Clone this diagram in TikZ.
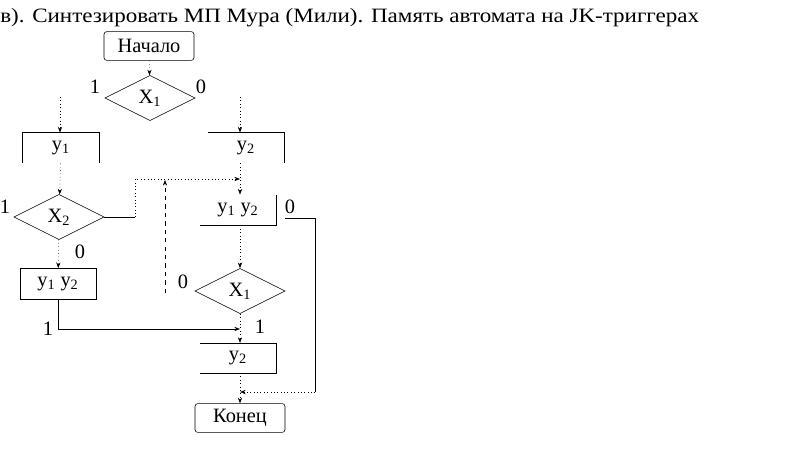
\documentclass[tikz,border=0pt]{standalone}
\usepackage{graphicx}
\usepackage{fontspec}
\setmainfont{Liberation Serif}
\usetikzlibrary{shapes.geometric}
\usetikzlibrary{arrows.meta}
\usetikzlibrary{calc}
\usetikzlibrary{positioning}
\tikzset{every text node part/.style={align=center, font={\fontsize{14.5}{16}\selectfont}}}
\tikzstyle{term} = [draw, rounded corners=2pt, minimum width=2.25cm, minimum height=0.72cm, inner sep=0pt]
\tikzstyle{opbox} = [minimum width=1.9cm, minimum height=0.76cm, inner sep=0pt]
\tikzstyle{cond} = [draw, diamond, minimum width=2.25cm, minimum height=1.13cm, inner sep=0pt]
\tikzstyle{ln} = [draw, ->, dotted, thin]
\tikzstyle{lbl} = [inner sep=0pt, font={\fontsize{13}{14}\selectfont}]

\begin{document}
\begin{tikzpicture}[x=0.025cm, y=-0.025cm, >={Stealth[length=4pt, width=3pt]}]
    \useasboundingbox (0,0) rectangle (803,448);
    % Title
    \node[anchor=base west, inner sep=0pt, font={\fontsize{16.5}{18}\selectfont}] (title) at (0,22)
        {\scalebox{1.13}[1]{в). Синтезировать МП Мура (Мили). Память автомата на JK-триггерах}};

    % Nodes
    \node[term] (start) at (149,46) {Начало};
    \node[cond] (xa) at (150,98) {X\textsubscript{1}};
    \node[opbox] (ya) at (61,148) {y\textsubscript{1}};
    \node[opbox] (yb) at (246,148) {y\textsubscript{2}};
    \node[cond] (xb) at (59,217) {X\textsubscript{2}};
    \node[opbox] (yr) at (238,210) {y\textsubscript{1} y\textsubscript{2}};
    \node[cond] (xc) at (240,291) {X\textsubscript{1}};
    \node[opbox, draw, minimum height=0.78cm] (yl) at (58,284) {y\textsubscript{1} y\textsubscript{2}};
    \node[opbox, minimum height=0.74cm] (yc) at (238,358) {y\textsubscript{2}};
    \node[term] (finish) at (240,418) {Конец};

    % Open boxes
    \draw (ya.south west) -- (ya.north west) -- (ya.north east) -- (ya.south east);
    \draw (yb.north west) -- (yb.north east) -- (yb.south east);
    \draw (yr.south west) -- (yr.south east) -- (yr.north east);
    \draw (yc.north west) -- (yc.north east) -- (yc.south east) -- (yc.south west);

    % Free ends
    \coordinate (ta) at (60,97);
    \coordinate (tb) at (240,97);
    \coordinate (ua) at (165,293);
    \coordinate (ub) at (165,180);
    \coordinate (va) at (285,218);
    \coordinate (bend) at (135,217);
    \coordinate (mrg) at (240,179);
    \coordinate (jn) at (240,392);
    \coordinate (ja) at (240,329);
    \coordinate (jc) at (315,218);
    \coordinate (jd) at (315,392);

    % Paths
    \draw[ln] (start) -- (xa);
    \draw[ln] (ta) -- (ta |- ya.north);
    \draw[ln] (tb) -- (tb |- yb.north);
    \draw[ln] (ya) -- (xb);
    \draw (xb.east) -- (bend);
    \draw[ln] (bend) |- (mrg);
    \draw[ln] (tb |- yb.south) -- (tb |- yr.north);
    \draw[->, dashed, thin] (ua) -- (ub);
    \draw[ln] (xb) -- (yl);
    \draw[ln] (tb |- yr.south) -- (xc);
    \draw[ln] (xc) -- (tb |- yc.north);
    \draw[->, thin] (yl.south) |- (ja);
    \draw[thin] (va) -- (jc) -- (jd);
    \draw[ln] (jd) -- (jn);
    \draw[ln] (tb |- yc.south) -- (finish);

    % Labels
    \node[lbl] (l1) at (95,87) {1};
    \node[lbl] (l2) at (201,87) {0};
    \node[lbl] (l3) at (5,207) {1};
    \node[lbl] (l4) at (80,252) {0};
    \node[lbl] (l5) at (290,207) {0};
    \node[lbl] (l6) at (183,282) {0};
    \node[lbl] (l7) at (48,329) {1};
    \node[lbl] (l8) at (260,327) {1};
\end{tikzpicture}
\end{document}
